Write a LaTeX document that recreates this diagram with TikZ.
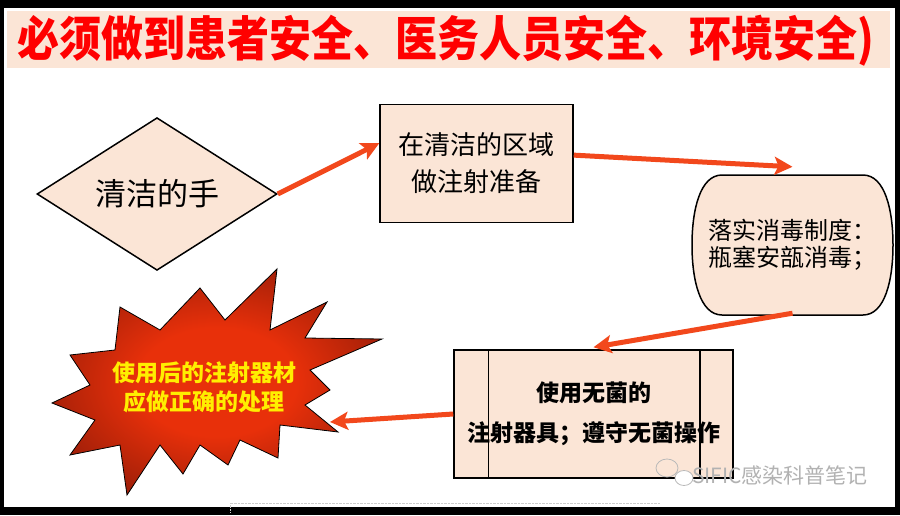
\documentclass[tikz,border=0pt]{standalone}
\usepackage{fontspec}
\newfontfamily\cjk{Noto Sans CJK SC}
\usetikzlibrary{calc,shapes.geometric,arrows.meta}

\definecolor{boxpink}{RGB}{251,229,214}
\definecolor{titlered}{RGB}{255,0,0}
\definecolor{flowred}{RGB}{242,72,28}
\definecolor{burstlight}{RGB}{232,48,10}
\definecolor{burstdark}{RGB}{115,20,8}
\definecolor{burstyellow}{RGB}{255,238,0}

\pgfdeclareradialshading{burstshade}{\pgfpoint{0bp}{0bp}}{%
  color(0bp)=(burstlight); color(12bp)=(burstlight);
  color(37bp)=(burstdark); color(50bp)=(burstdark)}

\tikzset{
  boxline/.style={draw=black,line width=1.5pt,fill=boxpink},
  flow/.style={draw=flowred,line width=5pt,
    -{Stealth[length=18pt,width=18pt,inset=4pt]}},
}

\begin{document}
\begin{tikzpicture}[x=1pt,y=-1pt]

        % frame and title band
        \useasboundingbox (0,0) rectangle (900,515);
        \fill[black] (0,0) rectangle (900,515);
        \fill[white] (4,8) rectangle (895,507);
        \fill[boxpink] (7,11) rectangle (890,68);
        \node[font=\cjk\bfseries\fontsize{42}{42}\selectfont,text=titlered]
          (title) at (446,41) {\scalebox{1}[1.14]{必须做到患者安全、医务人员安全、环境安全)}};

        % shapes drawn by hand
        \draw[boxline] (722,175) -- (863,175)
          .. controls (885,175) and (893,210) .. (893,245)
          .. controls (893,280) and (885,315) .. (863,315)
          -- (722,315)
          .. controls (700,315) and (692,280) .. (692,245)
          .. controls (692,210) and (700,175) .. (722,175) -- cycle;
        \shade[draw=black,line width=0.8pt,shading=burstshade]
          (277,269) -- (270,330) -- (327,302) -- (305,338) -- (382,339)
          -- (310,370) -- (330,390) -- (305,405) -- (338,432) -- (280,425)
          -- (278,458) -- (240,440) -- (228,465) -- (200,445) -- (183,474)
          -- (160,445) -- (127,495) -- (120,445) -- (70,455) -- (95,420)
          -- (52,403) -- (90,385) -- (70,355) -- (115,350) -- (120,307)
          -- (160,330) -- (200,288) -- (225,320) -- cycle;

        \begin{scope}[every node/.style={align=center,inner sep=0pt}]
          \node[boxline,diamond,minimum width=240pt,minimum height=150pt,
            font=\cjk\fontsize{31}{31}\selectfont] (hand) at (157,194) {清洁的手};
          \node[boxline,minimum width=193pt,minimum height=118pt,
            font=\cjk\fontsize{26}{37}\selectfont] (prep) at (476.5,163.5)
            {在清洁的区域\\做注射准备};
          \node[minimum width=201pt,minimum height=140pt,
            font=\cjk\fontsize{24}{27}\selectfont] (dis) at (792.5,245)
            {落实消毒制度：\\瓶塞安瓿消毒；};
          \node[boxline,minimum width=279pt,minimum height=128pt,
            font=\cjk\bfseries\fontsize{23}{40}\selectfont] (use) at (593.5,414)
            {使用无菌的\\注射器具；遵守无菌操作};
          \node[text=burstyellow,font=\cjk\bfseries\fontsize{23}{29}\selectfont]
            (waste) at (204,387) {使用后的注射器材\\应做正确的处理};
        \end{scope}
        \draw[line width=1.5pt] ([xshift=35pt]use.north west) -- ([xshift=35pt]use.south west);
        \draw[line width=1.5pt] ([xshift=-34pt]use.north east) -- ([xshift=-34pt]use.south east);

        % arrows
        \coordinate (wastein) at (330,422);
        \begin{scope}[every edge/.style={flow}]
          \path (hand.east) edge ($(prep.north west)!0.33!(prep.south west)$);
          \path ($(prep.north east)!0.43!(prep.south east)$) edge ([yshift=8pt]dis.north);
          \path ([yshift=2pt]dis.south) edge ([yshift=2pt]use.north);
          \path (use.west) edge (wastein);
        \end{scope}

        % watermark
        \draw[gray!55,line width=0.8pt] (667,468) ellipse (11 and 9);
        \draw[gray!55,line width=0.8pt,fill=white] (684,478) ellipse (9 and 7.5);
        \node[text=gray!60,font=\cjk\fontsize{21}{21}\selectfont] (mark) at (780,475) {SIFIC感染科普笔记};
        \draw[gray!40,densely dotted] (230,512) -- (230,503) -- (660,503);

      \end{tikzpicture}
\end{document}
